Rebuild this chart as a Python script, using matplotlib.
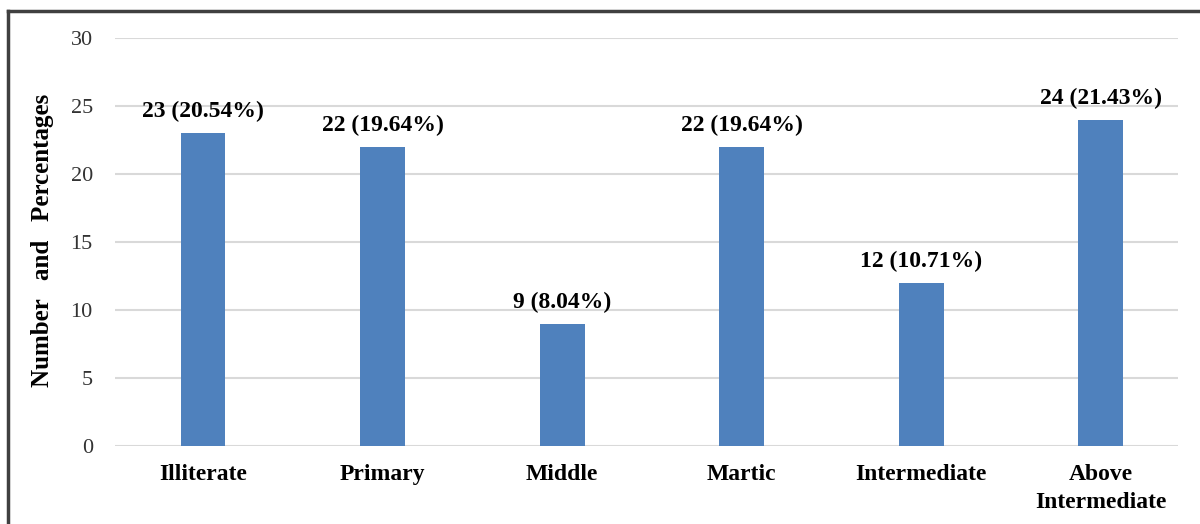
import matplotlib
matplotlib.use("Agg")
import matplotlib.pyplot as plt
from matplotlib.lines import Line2D

# 文化程度分布数据
categories = ["Illiterate", "Primary", "Middle", "Martic", "Intermediate", "Above\nIntermediate"]
counts = [23, 22, 9, 22, 12, 24]
percents = [20.54, 19.64, 8.04, 19.64, 10.71, 21.43]
y_ticks = [0, 5, 10, 15, 20, 25, 30]

plt.rcParams['font.family'] = ['Liberation Serif', 'DejaVu Serif']

fig = plt.figure(figsize=(12, 5.24), dpi=100)
ax = fig.add_axes([115 / 1200, 1 - 446 / 524, 1063 / 1200, 408 / 524])

x = list(range(len(categories)))
ax.bar(x, counts, width=0.25, color='#4F81BD', zorder=3)

# 柱顶标注：数量和百分比
for xi, c, p in zip(x, counts, percents):
    ax.text(xi, c + 0.8, f"{c} ({p:.2f}%)", ha='center', va='bottom',
            fontsize=17, fontweight='bold')

ax.set_xlim(-0.49, 5.43)
ax.set_ylim(0, 30)
ax.set_yticks(y_ticks)
ax.set_xticks(x)
ax.set_xticklabels(categories, fontsize=17, fontweight='bold', linespacing=1.45)
ax.tick_params(axis='y', labelsize=16, length=0, pad=16, labelcolor='#333333')
ax.tick_params(axis='x', length=0, pad=13)
ax.grid(axis='y', color='#D9D9D9', linewidth=1.5, zorder=0)
for s in ax.spines.values():
    s.set_visible(False)

ax.set_ylabel("Number   and   Percentages", fontsize=18, fontweight='bold')
ax.yaxis.set_label_coords(-0.057, 0.505)

# 外边框
fig.add_artist(Line2D([8 / 1200, 1.0], [1 - 11 / 524] * 2, transform=fig.transFigure,
                      color='#404040', linewidth=2.5))
fig.add_artist(Line2D([8 / 1200] * 2, [0, 1 - 11 / 524], transform=fig.transFigure,
                      color='#404040', linewidth=2.5))

fig.savefig("out.png", dpi=100)
